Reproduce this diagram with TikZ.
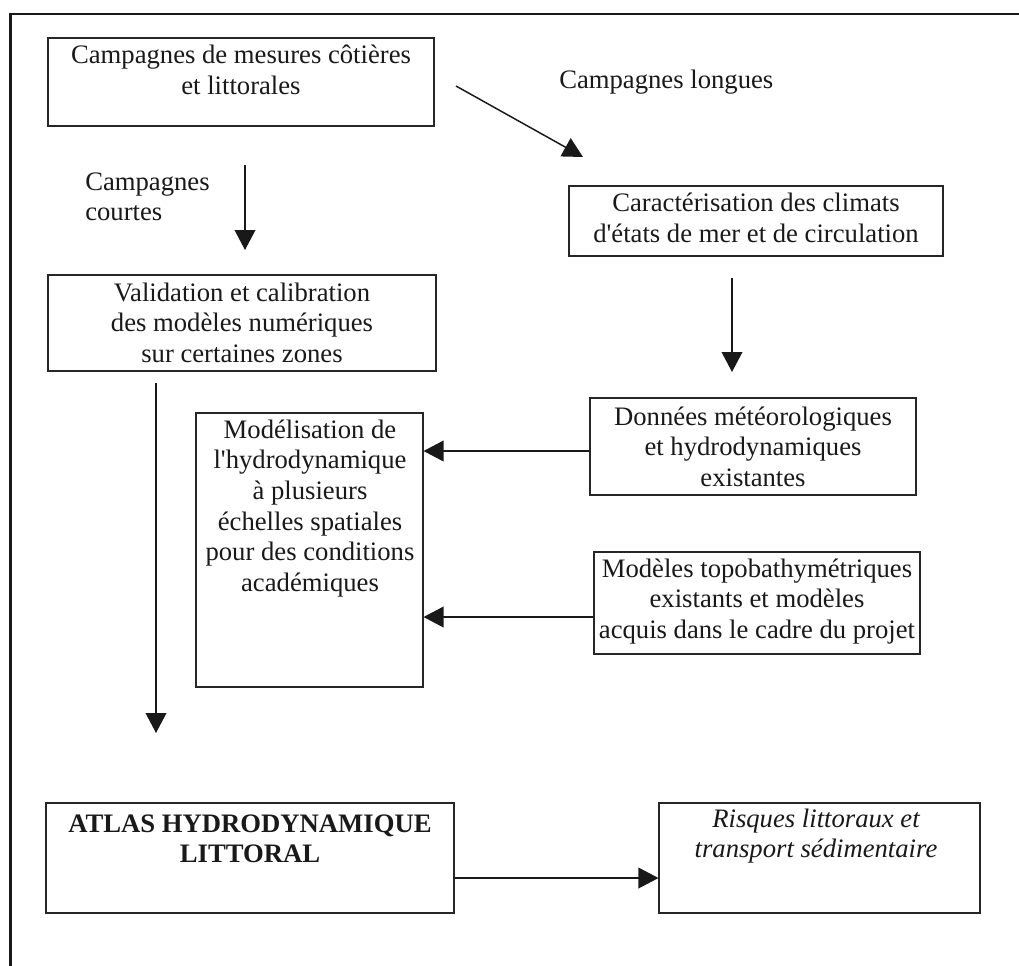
\documentclass[tikz,border=0pt]{standalone}
\usepackage{fontspec}
\setmainfont{Liberation Serif}
\usetikzlibrary{arrows.meta,fit}
\newcommand{\fl}{\rule{0pt}{16pt}}
\begin{document}
\begin{tikzpicture}[x=0.75pt,y=-0.75pt,
  box/.style={draw=black!85,line width=0.8pt,inner sep=0pt},
  txt/.style={font=\fontsize{20pt}{23pt}\selectfont,inner sep=0pt,align=center,anchor=north,text=black!90},
  arr/.style={draw=black!90,line width=1.1pt,-{Triangle[length=15pt,width=15.5pt]}},
  frame/.style={draw=black!90,line width=1.7pt}]
\fill[white] (0,0) rectangle (1019,965);
\useasboundingbox (0,0) rectangle (1019,965);
\draw[frame] (10.5,966) -- (10.5,14) -- (1020,14);

% boxes
\node[box,fit={(48,38) (434,126)}] (b1) {};
\node[box,fit={(48,275) (436,371)}] (b2) {};
\node[box,fit={(569,186) (943,256)}] (b3) {};
\node[box,fit={(590,398) (916,495)}] (b4) {};
\node[box,fit={(196,413) (423,687)}] (b5) {};
\node[box,fit={(594,552) (920,654)}] (b6) {};
\node[box,fit={(46,803) (454,913)}] (b7) {};
\node[box,fit={(659,803) (980,913)}] (b8) {};

% texts
\node[txt] (t1) at (241,42.2) {\fl Campagnes de mesures côtières\\et littorales};
\node[txt] (t2) at (242,279.7) {\fl Validation et calibration\\des modèles numériques\\sur certaines zones};
\node[txt] (t3) at (756,190.2) {\fl Caractérisation des climats\\d\textquotesingle états de mer et de circulation};
\node[txt] (t4) at (753,403.7) {\fl Données météorologiques\\et hydrodynamiques\\existantes};
\node[txt] (t5) at (310,416.7) {\fl Modélisation de\\l\textquotesingle hydrodynamique\\à plusieurs\\échelles spatiales\\pour des conditions\\académiques};
\node[txt] (t6) at (757,555.7) {\fl Modèles topobathymétriques\\existants et modèles\\acquis dans le cadre du projet};
\node[txt] (t7) at (250,810.7) {\bfseries\fl ATLAS HYDRODYNAMIQUE\\\bfseries LITTORAL};
\node[txt] (t8) at (816,805.7) {\itshape\fl Risques littoraux et\\\itshape transport sédimentaire};

% labels
\node[txt,anchor=base west] (l1) at (559,88) {Campagnes longues};
\node[txt,anchor=north west,align=left] (l2) at (85,168.7) {\fl Campagnes\\courtes};

% connector ends
\coordinate (d1) at (456,86);
\coordinate (d2) at (583,157);
\coordinate (c1) at (245,165);
\coordinate (c2) at (245,250);
\coordinate (e1) at (732,278);
\coordinate (e2) at (732,372);
\coordinate (f1) at (156,383);
\coordinate (f2) at (156,733);

\draw[arr] (d1) -- (d2);
\draw[arr] (c1) -- (c2);
\draw[arr] (e1) -- (e2);
\draw[arr] (f1) -- (f2);
\draw[arr] (b4.west |- 0,451) -- (b5.east |- 0,451);
\draw[arr] (b6.west |- 0,617) -- (b5.east |- 0,617);
\draw[arr] (b7.east |- 0,878) -- (b8.west |- 0,878);
\end{tikzpicture}
\end{document}
